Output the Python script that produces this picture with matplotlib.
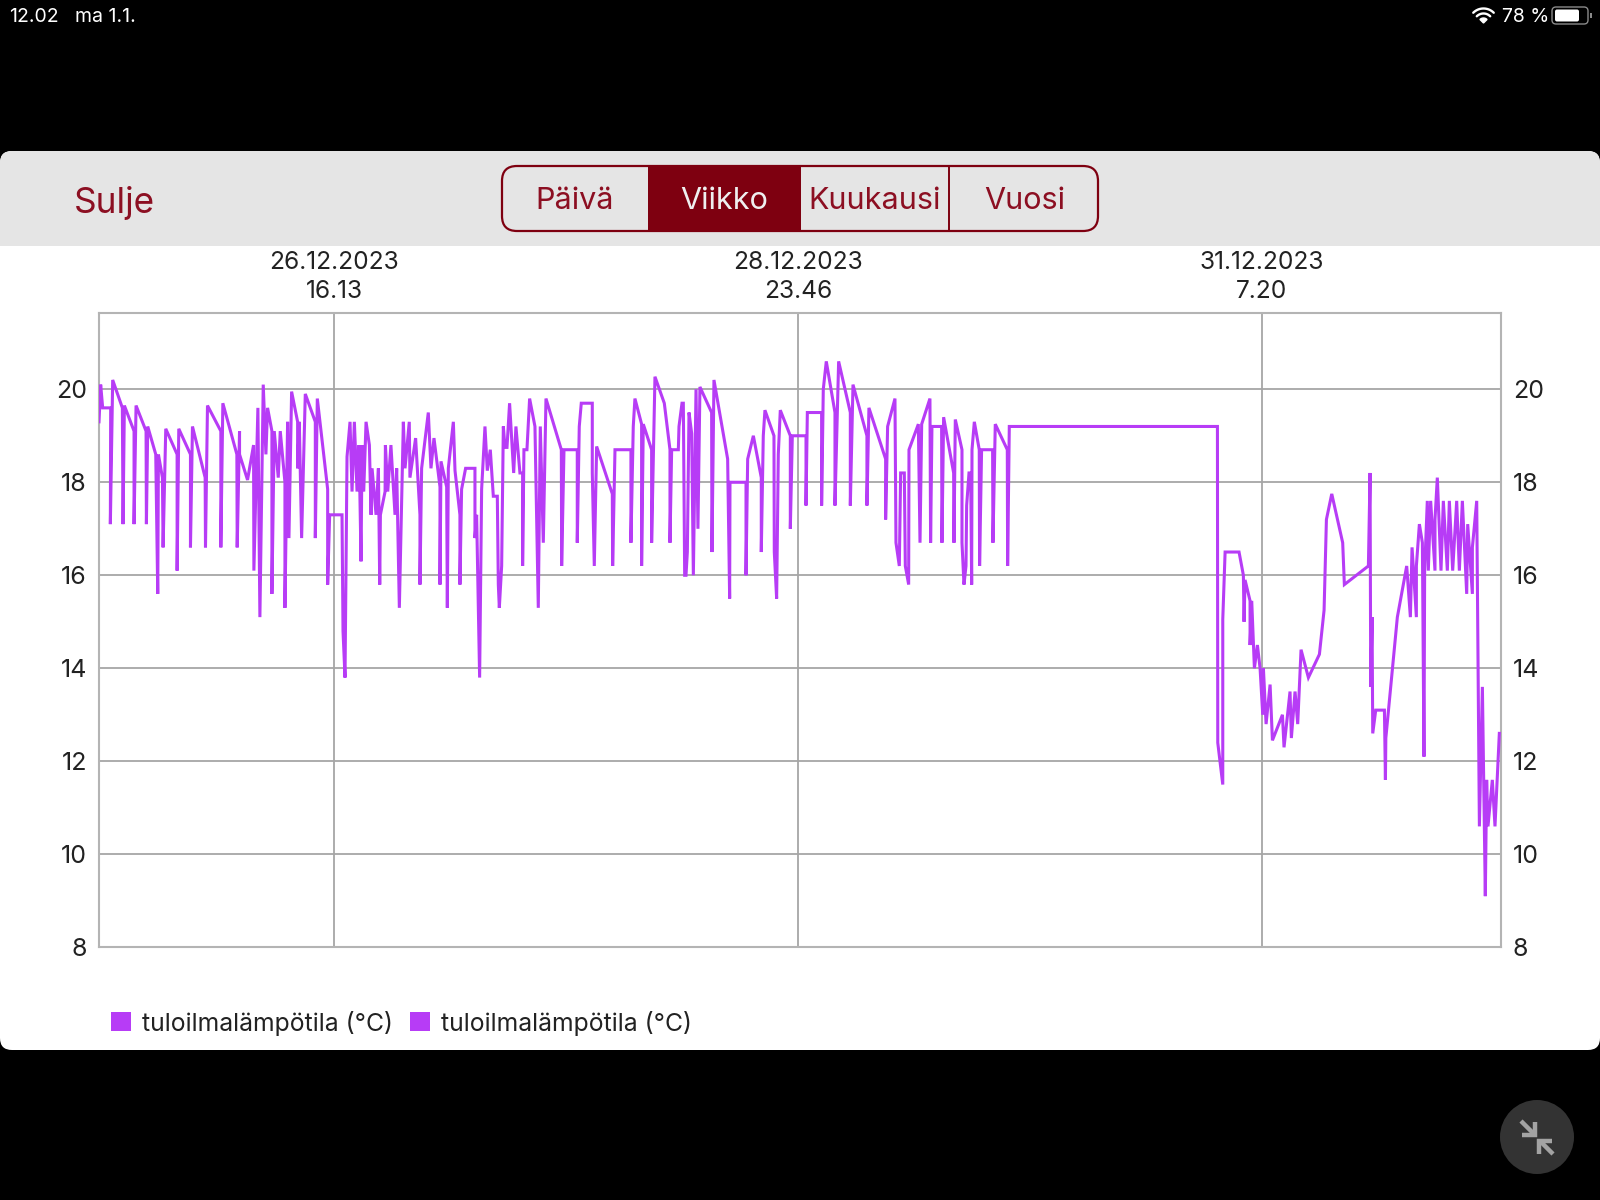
import matplotlib
matplotlib.use("Agg")
import numpy as np
import matplotlib.pyplot as plt
from matplotlib.patches import FancyBboxPatch, Rectangle, Circle, Patch

plt.rcParams['font.family'] = ['Inter', 'DejaVu Sans']

# hours since the left edge of the week view
hours = [0.0, 0.2, 0.44, 1.4, 1.36, 1.64, 2.8, 2.88, 3.04, 4.2, 4.2, 4.44, 5.64, 5.68, 5.84, 6.8, 7.04, 7.12, 7.6, 7.68,
         8.0, 9.36, 9.36, 9.56, 10.96, 10.96, 11.2, 12.72, 12.76, 13.0, 14.6, 14.6, 14.84, 16.52, 16.56, 16.84, 16.84,
         17.8, 18.52, 18.56, 19.04, 19.28, 19.68, 20.0, 20.2, 20.72, 20.72, 21.0, 21.48, 21.72, 22.28, 22.28, 22.6,
         22.76, 23.08, 23.8, 23.8, 24.0, 24.28, 24.72, 25.92, 25.92, 26.16, 27.4, 27.4, 27.64, 29.12, 29.24, 29.48,
         29.72, 30.08, 30.32, 30.6, 30.92, 31.16, 31.4, 31.52, 31.72, 32.0, 32.4, 32.6, 32.72, 33.2, 33.48, 33.64,
         33.72, 34.28, 34.32,
         34.6, 34.98, 35.47, 35.67, 35.99, 36.47, 36.67, 37.18, 37.26, 37.94, 38.46, 38.46, 38.66, 39.46, 39.78, 40.14,
         40.86, 40.86, 40.98, 41.66, 41.74, 41.86, 42.46, 42.66, 43.25, 43.25, 43.45, 43.93, 45.05, 45.05, 45.25, 45.45,
         45.61, 45.85, 46.25, 46.53, 46.89, 47.25, 47.73, 47.85, 47.97, 48.25, 48.45, 48.65, 48.89, 49.2, 49.69, 49.96,
         50.44, 50.76, 50.76, 50.92, 51.28, 51.6, 52.24, 52.64, 52.88, 53.24, 53.56, 55.4, 55.44, 55.72, 57.31, 57.31,
         57.55, 57.79, 59.11, 59.11, 59.35, 59.63, 61.51, 61.55, 61.83, 63.74, 63.74, 64.02, 64.22, 65.02, 65.02, 65.22,
         66.22, 66.22, 66.62, 67.74, 68.42, 68.42,
         68.62, 69.42, 69.5, 69.86, 70.02, 70.18, 70.34, 70.5, 70.7, 71.02, 71.22, 71.54, 71.77, 72.01, 73.41, 73.45,
         73.69, 75.33, 75.57, 75.61, 77.53, 77.53, 77.73, 78.41, 79.36, 79.36, 79.6, 79.8, 80.88, 80.92, 81.2, 81.4,
         81.64, 82.84, 82.84, 83.08, 84.72, 84.72, 84.88, 86.59, 86.59, 86.79, 87.15, 88.19, 88.19, 88.63, 90.03, 90.03,
         90.35, 92.02, 92.02, 92.26, 94.26, 94.26, 94.5, 95.38, 95.5, 95.9, 96.06, 96.5, 96.62, 97.02, 97.06, 98.18,
         98.38, 98.58, 99.57, 99.65, 99.81, 100.97, 101.01, 101.21, 102.41, 102.45, 102.61, 103.41, 103.41, 103.65,
         103.89, 103.97, 104.25, 104.45, 104.57, 104.61, 104.89, 105.48, 105.52, 105.76, 107.08, 107.12, 107.4, 108.84,
         108.88, 109.08,
         134.02, 134.06, 134.66, 134.66, 134.94, 136.61, 137.13, 137.21, 137.33, 137.93, 137.93, 138.13, 138.45, 138.81,
         139.13, 139.45, 139.53, 139.85, 140.33, 140.61, 141.81, 142.0, 142.72, 142.88, 143.32, 143.64, 144.04, 144.92,
         146.24, 146.8, 147.08, 147.72, 149.03, 149.23, 152.11, 152.31, 152.39, 152.55, 152.63, 152.99, 154.03, 154.15,
         154.2, 154.7, 155.58, 156.7, 157.14, 157.34, 157.86, 157.86, 158.22, 158.58, 158.77, 158.85, 159.17, 159.29,
         159.57, 160.09, 160.09, 160.37, 160.81, 161.09, 161.57, 161.81, 162.21, 162.69, 163.01, 163.37, 163.89, 164.01,
         164.57, 164.57, 165.09, 165.41, 165.77, 166.12, 166.28, 166.44, 166.96, 167.28, 167.8]

temps = [19.3, 20.1, 19.6, 19.6, 17.1, 20.2, 19.6, 17.1, 19.65, 19.1, 17.1, 19.65, 19.1, 17.1, 19.2, 18.6, 15.6, 18.6, 18.1, 16.6,
         19.15, 18.6, 16.1, 19.15, 18.6, 16.6, 19.2, 18.1, 16.6, 19.65, 19.1, 16.6, 19.7, 18.6, 16.6, 19.1, 18.6,
         18.05, 18.8, 16.1, 19.6, 15.1, 20.1, 18.6, 19.6, 19.1, 15.6, 19.1, 18.1, 19.1, 18.0, 15.3, 19.3,
         16.8, 19.95, 19.3, 18.3, 19.3, 16.8, 19.9, 19.3, 16.8, 19.8, 17.85, 15.8, 17.3, 17.3, 14.8, 13.8,
         18.55, 19.3, 17.8, 19.3, 17.8, 18.8, 16.3, 18.8, 17.8, 19.3, 18.8, 17.3, 18.3, 17.3, 18.3, 15.8,
         17.3, 17.8, 18.8,
         17.8, 18.8, 17.3, 18.3, 15.3, 19.3, 18.3, 19.3, 18.1, 18.95, 17.3, 15.8, 18.3, 19.5, 18.3, 18.95,
         17.9, 15.8, 18.45, 17.9, 15.3, 18.3, 19.3, 18.25, 17.3, 15.8, 17.85, 18.3, 18.3, 16.8, 17.3, 15.3,
         13.8, 17.85, 19.2, 18.25, 18.7, 17.7, 17.7, 15.8, 15.3, 16.2, 19.2, 18.75, 18.75, 19.7, 18.2, 19.2,
         18.2, 18.2, 16.2, 18.7, 18.7, 19.8, 19.2, 15.3, 19.2, 16.7, 19.8, 18.7, 16.2, 18.7, 18.7, 16.7,
         19.2, 19.7, 19.7, 18.2, 16.2, 18.77, 17.75, 16.2, 18.7, 18.7, 16.7, 19.2, 19.8, 19.25, 16.2, 19.25,
         18.7, 16.7, 20.27, 19.7, 18.7, 16.7,
         18.7, 18.7, 19.2, 19.7, 19.7, 16.0, 16.0, 16.5, 19.5, 19.05, 16.0, 20.0, 17.0, 20.05, 19.5, 16.5,
         20.2, 18.5, 15.5, 18.0, 18.0, 16.0, 18.5, 19.0, 18.1, 16.5, 19.0, 19.55, 19.0, 16.5, 15.5, 18.6,
         19.55, 19.0, 17.0, 19.0, 19.0, 17.5, 19.5, 19.5, 17.5, 20.0, 20.6, 19.5, 17.5, 20.6, 19.5, 17.5,
         20.1, 19.0, 17.5, 19.6, 18.5, 17.2, 19.2, 19.8, 16.7, 16.2, 18.2, 18.2, 16.2, 15.8, 18.7, 19.25,
         16.7, 19.25, 19.8, 16.7, 19.2, 19.2, 16.7, 19.4, 18.2, 16.7, 19.35, 18.7, 16.7, 15.8,
         16.2, 17.5, 18.2, 18.2, 15.8, 18.7, 19.3, 18.7, 16.2, 18.7, 18.7, 16.7, 19.25, 18.7,
         16.2, 19.2,
         19.2, 12.4, 11.5, 15.05, 16.5, 16.5, 16.0, 15.0, 15.9, 15.45, 14.5, 15.45, 14.0, 14.5,
         14.0, 13.0, 14.0, 12.8, 13.65, 12.45, 13.0, 12.3, 13.5, 12.5, 13.5, 12.8, 14.4, 13.8,
         14.3, 15.25, 17.2, 17.75, 16.7, 15.8, 16.2, 18.2, 13.6, 15.1, 12.6, 13.1, 13.1, 11.6,
         12.5, 13.45, 15.1, 16.2, 15.1, 16.6, 15.1, 16.2, 17.1, 16.7, 12.1, 16.1, 17.6, 16.1,
         17.6, 16.1, 17.2, 18.1, 16.1, 17.6, 16.1, 17.6, 16.1, 17.6, 16.1, 17.6, 15.6, 17.1,
         15.6, 16.6, 17.6, 10.6, 13.6, 9.1, 11.6, 10.6, 11.6, 10.6, 12.6]

tick_hours = [28.17, 83.75, 139.33]
tick_labels = ['26.12.2023\n16.13', '28.12.2023\n23.46', '31.12.2023\n7.20']
y_ticks = [8, 10, 12, 14, 16, 18, 20]
tabs = ['Päivä', 'Viikko', 'Kuukausi', 'Vuosi']
tab_x = [574.5, 724.5, 874.5, 1024.5]
series_name = 'tuloilmalämpötila (°C)'

purple = '#B73CF6'
grid_col = '#A6A6A6'
dark_red = '#7E0010'
red_text = '#8C0F22'
txt = '#222222'

fig = plt.figure(figsize=(16, 12), dpi=100, facecolor='black')

# screen furniture, in screen pixels
bg = fig.add_axes([0, 0, 1, 1], zorder=0)
bg.set_xlim(0, 1600)
bg.set_ylim(1200, 0)
bg.axis('off')

bg.add_patch(FancyBboxPatch((0, 151), 1600, 899, boxstyle='round,pad=0,rounding_size=12', fc='white', ec='none'))
bg.add_patch(FancyBboxPatch((0, 151), 1600, 60, boxstyle='round,pad=0,rounding_size=12', fc='#E5E5E5', ec='none'))
bg.add_patch(Rectangle((0, 170), 1600, 76, fc='#E5E5E5', ec='none'))

bg.text(74, 203, 'Sulje', color=red_text, fontsize=25.3, va='center', ha='left')

bg.add_patch(FancyBboxPatch((502, 166), 596, 65, boxstyle='round,pad=0,rounding_size=15', fc='none', ec=dark_red, lw=1.6))
bg.add_patch(Rectangle((648, 165), 153, 67, fc=dark_red, ec='none'))
bg.plot([949, 949], [166, 231], color=dark_red, lw=1.4)
for name, x in zip(tabs, tab_x):
    col = '#EFEFEF' if name == 'Viikko' else red_text
    bg.text(x, 201, name, color=col, fontsize=22, ha='center', va='center')

# status bar
bg.text(9, 17, '12.02', color='white', fontsize=14, va='center')
bg.text(75, 17, 'ma 1.1.', color='white', fontsize=14, va='center')
bg.text(1502, 17, '78 %', color='white', fontsize=14, va='center')
ang = np.radians(np.linspace(45, 135, 30))
for r in [9.5, 14.5]:
    bg.plot(1483.5 + r * np.cos(ang), 23 - r * np.sin(ang), color='white', lw=1.7, solid_capstyle='round')
bg.fill(np.r_[1483.5, 1483.5 + 5 * np.cos(ang)], np.r_[23, 23 - 5 * np.sin(ang)], color='white')
bg.add_patch(FancyBboxPatch((1552, 7), 36, 17, boxstyle='round,pad=0,rounding_size=4', fc='none', ec='#8A8A8A', lw=1))
bg.add_patch(FancyBboxPatch((1555, 9.5), 24, 12, boxstyle='round,pad=0,rounding_size=2', fc='white', ec='none'))
bg.add_patch(Rectangle((1590, 13), 1.5, 5, fc='#8A8A8A', ec='none'))

# minimise button
bg.add_patch(Circle((1537, 1137), 37, fc='#333333', ec='none'))
for xs, ys in [([1521, 1535], [1121, 1135]), ([1522, 1535, 1535], [1135, 1135, 1122]),
               ([1553, 1540], [1154, 1141]), ([1552, 1539, 1539], [1141, 1141, 1154])]:
    bg.plot(xs, ys, color='#A3A3A3', lw=3.2, solid_capstyle='butt', solid_joinstyle='miter')

# the chart
ax = fig.add_axes([99 / 1600, 1 - 947.3 / 1200, 1402 / 1600, 634.3 / 1200], zorder=1)
ax.set_facecolor('white')
ax.plot(hours, temps, color=purple, lw=2.2, solid_joinstyle='miter', zorder=3)
ax.set_xlim(0, 168)
ax.set_ylim(8, 21.64)

ax.set_yticks(y_ticks)
ax.set_xticks(tick_hours)
ax.set_xticklabels(tick_labels, linespacing=1.3)
ax.tick_params(axis='x', top=True, bottom=False, labeltop=True, labelbottom=False, length=0, pad=7.5,
               labelsize=17.7, labelcolor=txt)
ax.tick_params(axis='y', left=True, right=True, labelleft=True, labelright=True, length=0, pad=8.6,
               labelsize=18, labelcolor=txt)
ax.grid(True, color=grid_col, lw=1.3, zorder=1)
for s in ax.spines.values():
    s.set_color('#B4B4B4')
    s.set_linewidth(1.5)

handles = [Patch(fc=purple, ec='none', label=series_name), Patch(fc=purple, ec='none', label=series_name)]
fig.legend(handles=handles, ncol=2, loc='center left', bbox_to_anchor=(101 / 1600, 1 - 1023 / 1200), frameon=False,
           fontsize=17.8, labelcolor=txt, handlelength=0.81, handleheight=0.81, handletextpad=0.45, columnspacing=0.68,
           borderpad=0.4, borderaxespad=0)

fig.savefig('out.png', dpi=100, facecolor='black')
